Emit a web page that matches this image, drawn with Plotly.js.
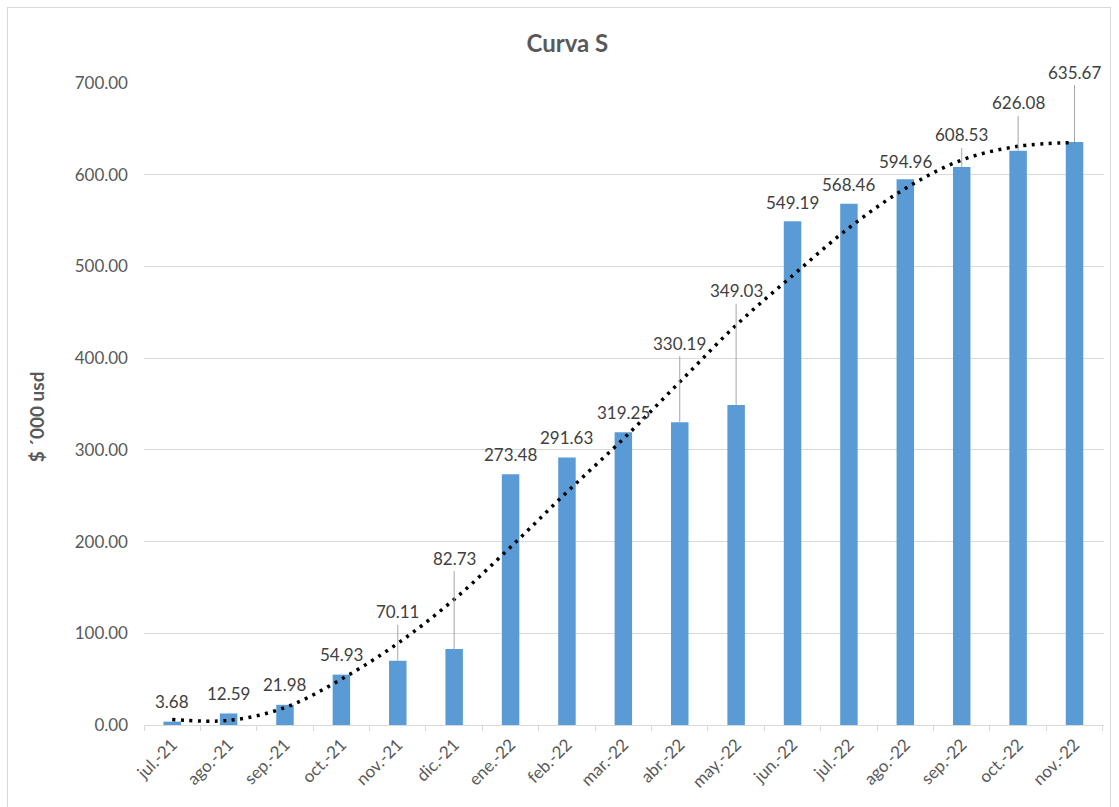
<!DOCTYPE html>
<html>
<head>
<meta charset="utf-8">
<script src="https://cdn.plot.ly/plotly-3.0.1.min.js"></script>
<style>
  html, body { margin: 0; padding: 0; background: #ffffff; }
  #wrap { position: relative; width: 1119px; height: 807px; }
  #chart { width: 1119px; height: 807px; }
  #frame { position: absolute; left: 7px; top: 7px; width: 1104px; height: 820px;
           border: 1px solid #d9d9d9; pointer-events: none; box-sizing: border-box; }
</style>
</head>
<body>
<div id="wrap">
  <div id="chart"></div>
  <div id="frame"></div>
</div>
<script>
// ---- Data ----
const months = ["jul.-21","ago.-21","sep.-21","oct.-21","nov.-21","dic.-21","ene.-22","feb.-22",
                "mar.-22","abr.-22","may.-22","jun.-22","jul.-22","ago.-22","sep.-22","oct.-22","nov.-22"];
const cumulative = [3.68, 12.59, 21.98, 54.93, 70.11, 82.73, 273.48, 291.63, 319.25, 330.19,
                    349.03, 549.19, 568.46, 594.96, 608.53, 626.08, 635.67];
// trendline (polynomial at each month)
const trendline = [6, 5, 19, 50, 89, 137, 194, 254, 312, 374, 436, 490, 542, 585, 616, 631, 635];
const yTicks = [0, 100, 200, 300, 400, 500, 600, 700];

// ---- label placement (style, pixels above bar top) ----
const labelLift = [20, 20, 20, 20, 49, 91, 20, 20, 20, 79, 114, 19, 19, 18, 32, 48, 70];
const leader    = [false,false,false,false,true,true,false,false,false,true,true,false,false,false,true,true,true];

const font = "Lato, 'Open Sans', sans-serif";

const bars = {
  type: 'bar', x: months, y: cumulative,
  marker: { color: '#5B9BD5' },
  hoverinfo: 'skip', showlegend: false
};
const trend = {
  type: 'scatter', mode: 'lines', x: months, y: trendline,
  line: { color: '#000000', width: 3.5, dash: '3px,5.5px', shape: 'spline', smoothing: 1 },
  hoverinfo: 'skip', showlegend: false
};

const annotations = cumulative.map((v, i) => {
  const a = {
    x: months[i], y: v, xref: 'x', yref: 'y',
    text: v.toFixed(2),
    font: { family: font, size: 17, color: '#404040' }
  };
  if (leader[i]) {
    Object.assign(a, { showarrow: true, arrowhead: 0, arrowwidth: 1, arrowcolor: '#a6a6a6',
      ax: 0, ay: -labelLift[i], axref: 'pixel', ayref: 'pixel', standoff: 0, borderpad: 2 });
  } else {
    Object.assign(a, { showarrow: false, yshift: labelLift[i], yanchor: 'middle' });
  }
  return a;
});

annotations.push({
  text: '$ ´000 usd', textangle: -90, showarrow: false,
  xref: 'paper', yref: 'paper', x: -0.112, y: 0.48, xanchor: 'center', yanchor: 'middle',
  font: { family: font, size: 19, color: '#595959', weight: 'bold' }
});

const layout = {
  width: 1119, height: 807,
  margin: { l: 144, r: 15, t: 83, b: 82 },
  paper_bgcolor: '#ffffff', plot_bgcolor: '#ffffff',
  title: {
    text: '<b>Curva S</b>', xref: 'container', yref: 'container',
    x: 0.507, y: 0.946, xanchor: 'center', yanchor: 'middle',
    font: { family: font, size: 24, color: '#595959' }
  },
  bargap: 0.69,
  xaxis: {
    type: 'category',
    tickangle: -45,
    tickfont: { family: font, size: 17, color: '#595959' },
    ticks: 'outside', tickson: 'boundaries', ticklen: 5, tickcolor: '#d9d9d9',
    ticklabelstandoff: 2,
    showline: true, linecolor: '#d9d9d9', linewidth: 1,
    showgrid: false, zeroline: false, fixedrange: true
  },
  yaxis: {
    range: [0, 700],
    tickvals: yTicks,
    ticktext: yTicks.map(t => t.toFixed(2)),
    tickfont: { family: font, size: 17, color: '#595959' },
    ticklabelstandoff: 15,
    showgrid: true, gridcolor: '#d9d9d9', gridwidth: 1,
    zeroline: false, showline: false, ticks: '', fixedrange: true
  },
  annotations: annotations
};

Plotly.newPlot('chart', [bars, trend], layout, { staticPlot: true, displayModeBar: false });
</script>
</body>
</html>
